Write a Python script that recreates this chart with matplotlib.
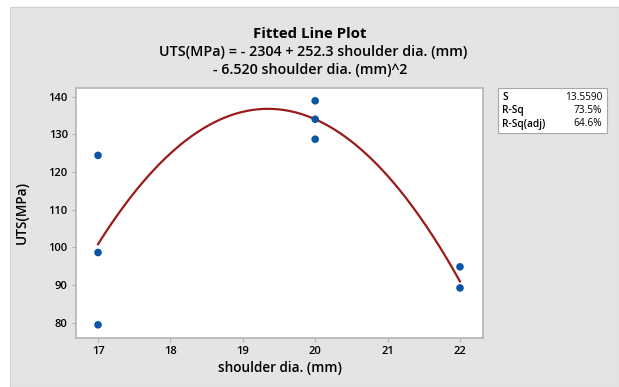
import matplotlib
matplotlib.use("Agg")
import matplotlib.pyplot as plt
import numpy as np
from matplotlib.patches import Rectangle

# Data
shoulder_dia = [17, 17, 17, 20, 20, 20, 22, 22]
uts = [124.4, 98.6, 79.4, 138.9, 134.0, 128.7, 94.8, 89.2]
# Fitted quadratic coefficients (from title equation): c2, c1, c0
fit_coef = [-6.520, 252.3, -2304]
x_ticks = [17, 18, 19, 20, 21, 22]
y_ticks = [80, 90, 100, 110, 120, 130, 140]
stat_names = ["S", "R-Sq", "R-Sq(adj)"]
stat_values = ["13.5590", "73.5%", "64.6%"]

plt.rcParams['font.family'] = ['Open Sans', 'DejaVu Sans']

W, H = 619, 387
fig = plt.figure(figsize=(W / 100, H / 100), dpi=100, facecolor='white')
bg = '#e4e4e4'
fig.patches.append(Rectangle((10 / W, 0), 1 - 10 / W, 1 - 7 / H, transform=fig.transFigure,
                             facecolor=bg, edgecolor='#d0d0d0', lw=0.8, zorder=-10))

ax_l, ax_r, ax_t, ax_b = 76, 483, 88, 338
ax = fig.add_axes([ax_l / W, 1 - ax_b / H, (ax_r - ax_l) / W, (ax_b - ax_t) / H])
ax.set_zorder(1)
ax.set_facecolor('white')

xs = np.linspace(min(shoulder_dia), max(shoulder_dia), 200)
ax.plot(xs, np.polyval(fit_coef, xs), color='#9b1b1b', lw=1.6, zorder=2)
ax.scatter(shoulder_dia, uts, s=30, color='#0a55a5', zorder=3, edgecolors='none')

ax.set_xlim(16.696, 22.318)
ax.set_ylim(75.9, 142.3)
ax.set_xticks(x_ticks)
ax.set_yticks(y_ticks)
ax.tick_params(axis='both', labelsize=8, color='#b0b0b0', length=3, width=0.8, pad=3)
for lab in ax.get_xticklabels() + ax.get_yticklabels():
    lab.set_fontweight('semibold')
for sp in ax.spines.values():
    sp.set_color('#b4b4b4')
    sp.set_linewidth(1.2)

fig.text(310 / W, 1 - 34 / H, "Fitted Line Plot", ha='center', va='center', fontsize=10.8, fontweight='bold')
fig.text(313 / W, 1 - 52 / H, "UTS(MPa) = - 2304 + 252.3 shoulder dia. (mm)", ha='center', va='center',
         fontsize=10.3, fontweight='semibold')
fig.text(310 / W, 1 - 70 / H, "- 6.520 shoulder dia. (mm)^2", ha='center', va='center',
         fontsize=10.3, fontweight='semibold')
fig.text(280 / W, 1 - 368 / H, "shoulder dia. (mm)", ha='center', va='center', fontsize=9.8, fontweight='semibold')
fig.text(22 / W, 1 - 213 / H, "UTS(MPa)", ha='center', va='center', rotation=90, fontsize=9.8, fontweight='semibold')

# stats box
bx0, bx1, by0, by1 = 498, 607, 88, 133
fig.patches.append(Rectangle((bx0 / W, 1 - by1 / H), (bx1 - bx0) / W, (by1 - by0) / H, transform=fig.transFigure,
                             facecolor='white', edgecolor='#a8a8a8', lw=0.8, zorder=1))
for i, (n, v) in enumerate(zip(stat_names, stat_values)):
    yy = 1 - (97 + i * 13.5) / H
    fig.text(502 / W, yy, n, ha='left', va='center', fontsize=7.3, fontweight='semibold', zorder=2)
    fig.text(602 / W, yy, v, ha='right', va='center', fontsize=7.3, zorder=2)

fig.savefig('out.png', dpi=100, facecolor='white')
